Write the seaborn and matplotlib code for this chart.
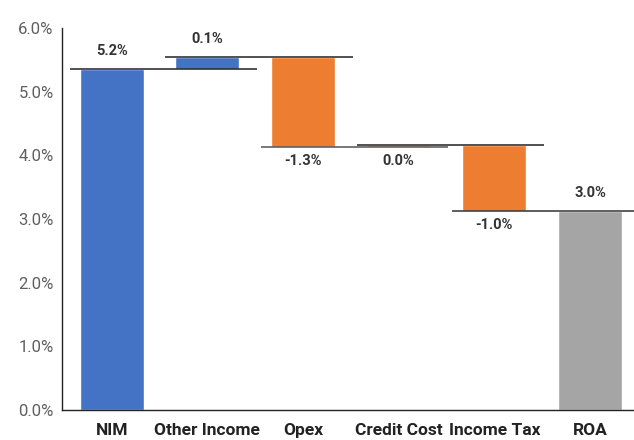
import matplotlib
matplotlib.use("Agg")
import matplotlib.pyplot as plt
import seaborn as sns
import numpy as np
import pandas as pd

categories = ["NIM", "Other Income", "Opex", "Credit Cost", "Income Tax", "ROA"]
bar_bottoms = [0.0, 5.35, 4.13, 4.13, 3.12, 0.0]
bar_tops = [5.35, 5.54, 5.54, 4.16, 4.16, 3.12]
end_levels = [5.35, 5.54, 4.13, 4.16, 3.12, None]
labels = ["5.2%", "0.1%", "-1.3%", "0.0%", "-1.0%", "3.0%"]
label_above = [True, True, False, False, False, True]
kinds = ["pos", "pos", "neg", "neg", "neg", "total"]
kind_colors = {"pos": "#4472C4", "neg": "#ED7D31", "total": "#A5A5A5"}
line_colors = ["#222222", "#222222", "#555555", "#222222", "#333333", None]

sns.set_theme(style="white")
plt.rcParams["font.family"] = ["Roboto", "DejaVu Sans"]

fig = plt.figure(figsize=(6.34, 4.40), dpi=100)
ax = fig.add_axes([62 / 634, 30 / 440, 1 - 62 / 634, 382 / 440])

df = pd.DataFrame({
    "cat": categories,
    "height": np.array(bar_tops) - np.array(bar_bottoms),
    "kind": kinds,
})
palette = {c: kind_colors[k] for c, k in zip(categories, kinds)}
sns.barplot(data=df, x="cat", y="height", hue="cat", palette=palette,
            legend=False, width=0.67, saturation=1, ax=ax, zorder=2)

patches = sorted(ax.patches, key=lambda p: p.get_x())
for p, b in zip(patches, bar_bottoms):
    p.set_y(b)

for i, (lvl, lc) in enumerate(zip(end_levels, line_colors)):
    if lvl is None:
        continue
    ax.plot([i - 0.44, i + 1.52], [lvl, lvl], color=lc, lw=1.1, zorder=3,
            solid_capstyle="butt", clip_on=False)

for i, (lab, above) in enumerate(zip(labels, label_above)):
    if above:
        y = bar_tops[i]
        ax.annotate(lab, (i, y), xytext=(0, 8), textcoords="offset points",
                    ha="center", va="bottom", fontsize=10.5, fontweight="bold",
                    color="#333333")
    else:
        y = bar_bottoms[i]
        ax.annotate(lab, (i, y), xytext=(0, -5), textcoords="offset points",
                    ha="center", va="top", fontsize=10.5, fontweight="bold",
                    color="#333333")

ax.set_xlim(-0.52, 5.46)
ax.set_ylim(0, 6)
ax.set_yticks(np.arange(0, 6.01, 1.0))
ax.set_yticklabels([f"{v:.1f}%" for v in np.arange(0, 6.01, 1.0)],
                   fontsize=12, color="#5f5f5f")
ax.set_xlabel("")
ax.set_ylabel("")
for lab in ax.get_xticklabels():
    lab.set_fontweight("bold")
    lab.set_fontsize(12.5)
    lab.set_color("#222222")
ax.tick_params(axis="y", length=0, pad=6)
ax.tick_params(axis="x", length=0, pad=9)
for s in ["top", "right"]:
    ax.spines[s].set_visible(False)
for s in ["left", "bottom"]:
    ax.spines[s].set_color("#222222")
    ax.spines[s].set_linewidth(1.0)

fig.savefig("out.png", dpi=100)
